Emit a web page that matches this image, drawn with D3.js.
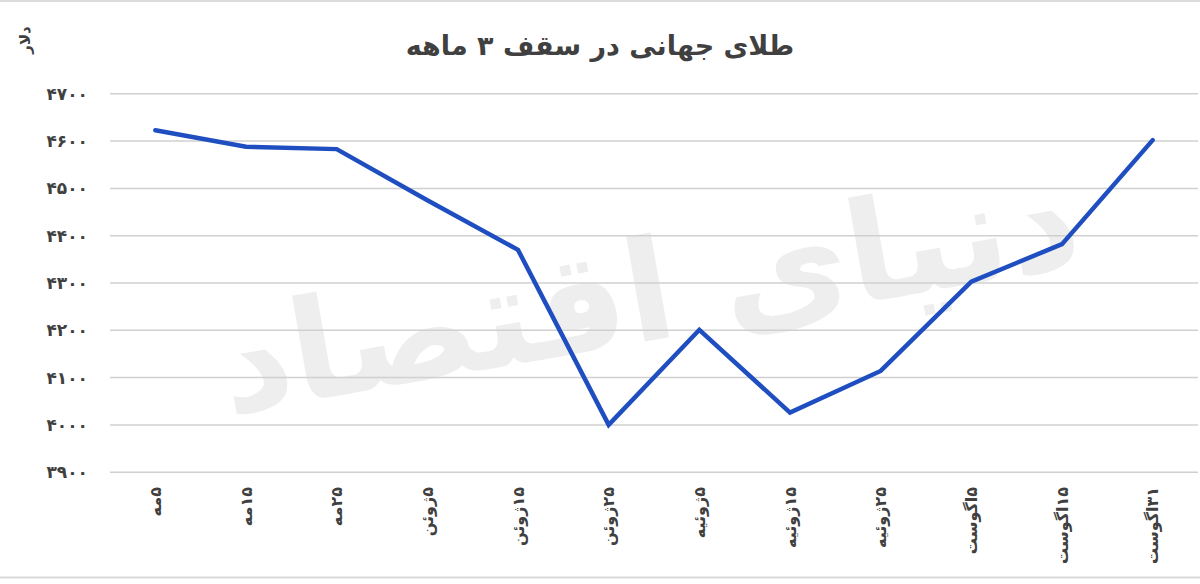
<!DOCTYPE html>
<html><head><meta charset="utf-8">
<script src="https://cdn.jsdelivr.net/npm/d3@7"></script>
<style>
html,body{margin:0;padding:0;background:#fff;}
svg{display:block;}
text{font-family:"DejaVu Sans","Noto Sans",sans-serif;}
</style></head>
<body>
<svg id="c" width="1200" height="584"></svg>
<script>
const titleText = "طلای جهانی در سقف ۳ ماهه";
const unitLabel = "دلار";
const watermarkText = "دنیای اقتصاد";
const categories = ["۵مه","۱۵مه","۲۵مه","۵ژوئن","۱۵ژوئن","۲۵ژوئن","۵ژوئیه","۱۵ژوئیه","۲۵ژوئیه","۵اگوست","۱۵اگوست","۳۱اگوست"];
const values = [4622,4587,4582,4474,4369,3999,4200,4025,4113,4302,4381,4601];
const yTicks = [3900,4000,4100,4200,4300,4400,4500,4600,4700];

const toFa = n => String(n).replace(/\d/g, d => "۰۱۲۳۴۵۶۷۸۹"[d]);
const RLM = "\u200F";

const svg = d3.select("#c");
const W = 1200, H = 584;

// frame lines
svg.append("line").attr("x1",0).attr("x2",W).attr("y1",1).attr("y2",1).attr("stroke","#dcdcdc").attr("stroke-width",2);
svg.append("line").attr("x1",0).attr("x2",W).attr("y1",577.5).attr("y2",577.5).attr("stroke","#d9d9d9").attr("stroke-width",2);

const x = d3.scaleBand().domain(categories).range([110,1198]);
const y = d3.scaleLinear().domain([3900,4700]).range([471.7,93.3]);

// watermark
svg.append("text")
  .attr("x",650).attr("y",340)
  .attr("text-anchor","middle")
  .attr("font-size",140)
  .attr("font-weight","bold")
  .attr("fill","#eeeeee")
  .attr("transform","rotate(-10,650,300)")
  .text(RLM + watermarkText);

// gridlines + y labels
const yAxis = d3.axisLeft(y).tickValues(yTicks).tickSize(-(1198-110)).tickFormat(d => toFa(d)).tickPadding(22);
const gy = svg.append("g").attr("transform","translate(110,0)").call(yAxis);
gy.select(".domain").remove();
gy.selectAll(".tick line").attr("stroke","#d0d0d0").attr("stroke-width",1.5);
gy.selectAll(".tick text").attr("fill","#404040").attr("font-size",17).attr("font-weight","bold").attr("dy","0.35em");

// x labels
const xAxis = d3.axisBottom(x).tickSize(0).tickFormat(d => RLM + d);
const gx = svg.append("g").attr("transform","translate(0,487)").call(xAxis);
gx.select(".domain").remove();
gx.selectAll(".tick text")
  .attr("fill","#404040").attr("font-size",16).attr("font-weight","bold")
  .attr("text-anchor","end")
  .attr("transform","rotate(-90)")
  .attr("x",0).attr("y",0).attr("dy","0.35em");

// line
const line = d3.line().x((d,i)=>x(categories[i]) + x.bandwidth()/2).y(d=>y(d));
svg.append("path").datum(values)
  .attr("d",line).attr("fill","none")
  .attr("stroke","#1f4ec0").attr("stroke-width",4.5)
  .attr("stroke-linejoin","miter").attr("stroke-linecap","round");

// title
svg.append("text").attr("x",600).attr("y",55).attr("text-anchor","middle")
  .attr("font-size",27).attr("font-weight","bold").attr("fill","#404040")
  .text(RLM + titleText);

// unit label
svg.append("text").attr("transform","translate(25,40) rotate(-90)")
  .attr("text-anchor","middle").attr("dy","0.35em")
  .attr("font-size",15).attr("font-weight","bold").attr("fill","#404040")
  .text(RLM + unitLabel);
</script>
</body></html>
